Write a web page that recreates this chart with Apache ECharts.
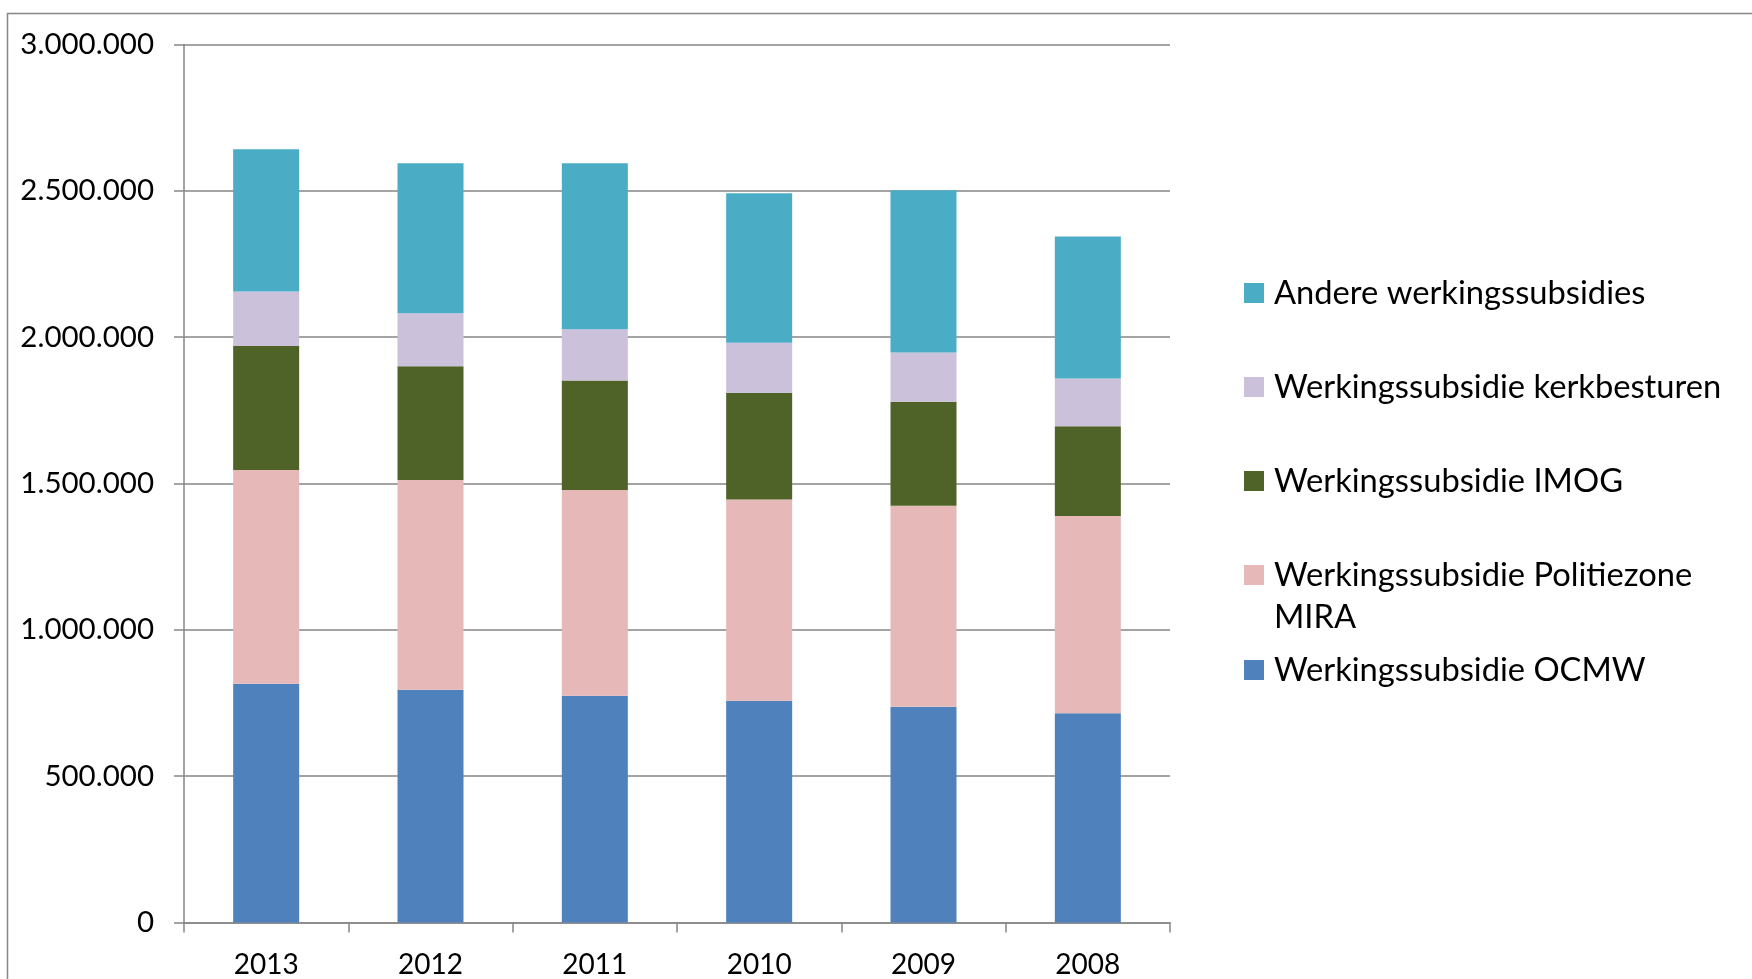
<!DOCTYPE html>
<html>
<head>
<meta charset="utf-8">
<script src="https://cdn.jsdelivr.net/npm/echarts@6/dist/echarts.min.js"></script>
<style>
html,body{margin:0;padding:0;background:#fff;}
#chart{width:1752px;height:979px;}
</style>
</head>
<body>
<div id="chart"></div>
<script>
const categories = ['2013', '2012', '2011', '2010', '2009', '2008'];
const ocmw = [816000, 795000, 775000, 758000, 737000, 715000];
const politie = [730000, 717000, 703000, 687000, 687000, 674000];
const imog = [424000, 389000, 374000, 365000, 355000, 307000];
const kerk = [186000, 181000, 175000, 171000, 169000, 163000];
const andere = [486000, 512000, 567000, 511000, 554000, 485000];
const seriesNames = [
  'Werkingssubsidie OCMW',
  'Werkingssubsidie Politiezone MIRA',
  'Werkingssubsidie IMOG',
  'Werkingssubsidie kerkbesturen',
  'Andere werkingssubsidies'
];
const seriesColors = ['#4F81BD', '#E6B9B8', '#4F6228', '#CCC1DA', '#4BACC6'];
const seriesData = [ocmw, politie, imog, kerk, andere];

const FONT = 'Lato';
const fmt = v => String(v).replace(/\B(?=(\d{3})+(?!\d))/g, '.');

const chart = echarts.init(document.getElementById('chart'));

// legend rows (top to bottom), center y of each row
const legendOrder = [4, 3, 2, 1, 0];
const legendCenters = [293, 387, 481, 575, 670];
const legends = legendOrder.map((si, i) => {
  const isMira = si === 1;
  return {
    show: true,
    orient: 'vertical',
    left: 1244,
    top: isMira ? legendCenters[i] - 63 : legendCenters[i] - 21,
    padding: 0,
    itemWidth: 20,
    itemHeight: 20,
    icon: 'rect',
    data: [seriesNames[si]],
    formatter: isMira ? ' \nWerkingssubsidie Politiezone\nMIRA' : '{name}',
    textStyle: {
      fontFamily: FONT, fontSize: 32.7, color: '#000', lineHeight: 42,
      padding: [0, 0, 0, 5]
    }
  };
});

chart.setOption({
  animation: false,
  backgroundColor: '#fff',
  graphic: [{
    type: 'rect',
    left: 5, top: 11,
    shape: { width: 2000, height: 2000 },
    style: { fill: 'none', stroke: '#868686', lineWidth: 1.5 },
    silent: true
  }],
  legend: legends,
  grid: { left: 184, right: 582, top: 44.5, bottom: 56.5, containLabel: false },
  xAxis: {
    type: 'category',
    data: categories,
    axisLine: { show: true, lineStyle: { color: '#868686', width: 1.5 } },
    axisTick: { show: true, length: 10, lineStyle: { color: '#868686', width: 1.5 } },
    axisLabel: { fontFamily: FONT, fontSize: 28, color: '#000', margin: 28 }
  },
  yAxis: {
    type: 'value',
    min: 0, max: 3000000, interval: 500000,
    axisLine: { show: true, lineStyle: { color: '#868686', width: 1.5 } },
    axisTick: { show: true, length: 10, lineStyle: { color: '#868686', width: 1.5 } },
    splitLine: { show: true, lineStyle: { color: '#868686', width: 1.5 } },
    axisLabel: { fontFamily: FONT, fontSize: 29.5, color: '#000', margin: 30, formatter: v => fmt(v) }
  },
  series: seriesData.map((d, i) => ({
    name: seriesNames[i],
    type: 'bar',
    stack: 'total',
    barWidth: 66,
    data: d,
    itemStyle: { color: seriesColors[i] }
  }))
});
</script>
</body>
</html>
